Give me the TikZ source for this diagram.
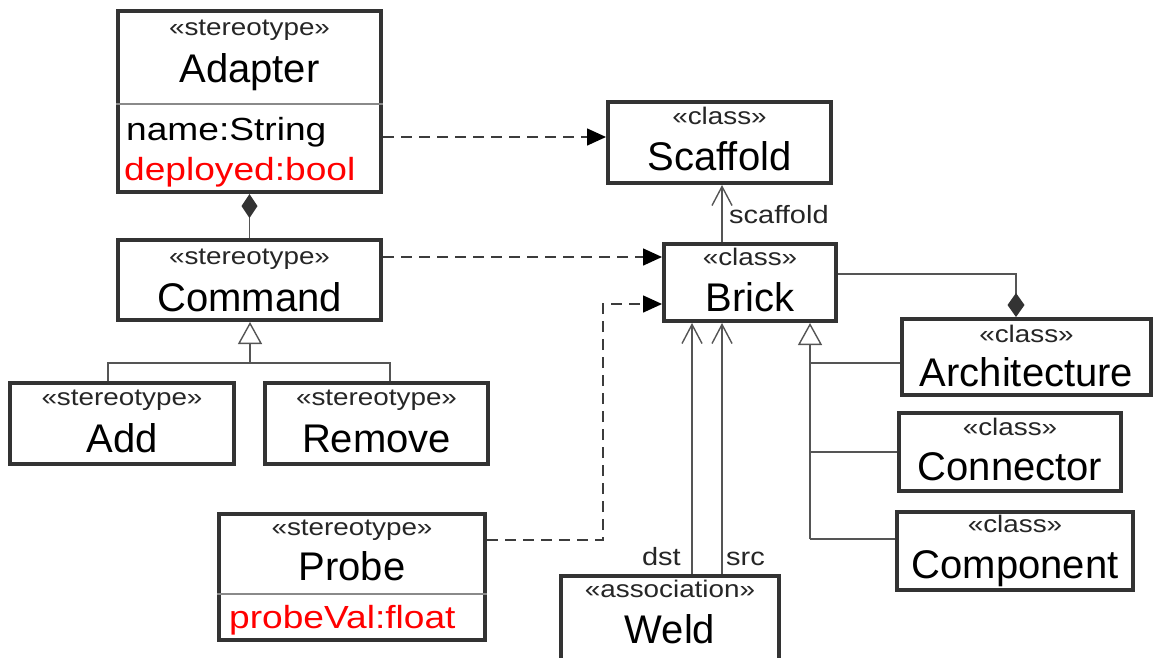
\documentclass[tikz,border=0pt]{standalone}
\usepackage{fontspec}
\setmainfont{Liberation Sans}
\newfontfamily\widefont[FakeStretch=1.16]{Liberation Sans}
\usetikzlibrary{arrows.meta}
\definecolor{boxline}{HTML}{333333}
\definecolor{wiregray}{HTML}{555555}
\definecolor{dashgray}{HTML}{3C3C3C}
\definecolor{divline}{HTML}{8A8A8A}
\definecolor{attrred}{HTML}{FF0000}

\begin{document}
\begin{tikzpicture}[x=1pt,y=-1pt,
  umlbox/.style={draw=boxline, line width=4pt, fill=white, rectangle, inner sep=0pt},
  sttext/.style={font=\widefont\fontsize{24}{28}\selectfont, text=black!85, anchor=base, inner sep=0pt},
  nametext/.style={font=\fontsize{40}{46}\selectfont, text=black, anchor=base, inner sep=0pt},
  attrtext/.style={font=\widefont\fontsize{32}{38}\selectfont, anchor=base west, inner sep=0pt},
  roletext/.style={font=\widefont\fontsize{25}{30}\selectfont, text=black!85, inner sep=0pt},
  divider/.style={draw=divline, line width=1.5pt},
  wire/.style={draw=wiregray, line width=1.4pt},
  dep/.style={draw=dashgray, line width=1.5pt, dash pattern=on 11pt off 7pt,
    -{Triangle[length=19pt,width=17pt,color=black]}},
  assoc/.style={wire, -{Straight Barb[length=19pt,width=20pt]}},
  gen/.style={wire, -{Triangle[open, length=22pt, width=24pt, fill=white]}},
  compstart/.style={wire, {Diamond[length=24pt,width=16pt,color=boxline]}-},
  compend/.style={wire, -{Diamond[length=24pt,width=17pt,color=boxline]}},
]
\useasboundingbox (0,0) rectangle (1155,657);

% ---- class boxes ----
\node[umlbox, minimum width=263pt, minimum height=181pt] (adapter) at (249.5,101.5) {};
\node[umlbox, minimum width=263pt, minimum height=80pt] (command) at (249.5,280) {};
\node[umlbox, minimum width=224pt, minimum height=81pt] (add) at (122,423.5) {};
\node[umlbox, minimum width=223pt, minimum height=81pt] (remove) at (376.5,423.5) {};
\node[umlbox, minimum width=223pt, minimum height=81pt] (scaffold) at (719.5,142.5) {};
\node[umlbox, minimum width=172pt, minimum height=77pt] (brick) at (750,282.5) {};
\node[umlbox, minimum width=249pt, minimum height=76pt] (architecture) at (1026.5,357) {};
\node[umlbox, minimum width=222pt, minimum height=78pt] (connector) at (1010,452) {};
\node[umlbox, minimum width=236pt, minimum height=78pt] (component) at (1015,551) {};
\node[umlbox, minimum width=266pt, minimum height=126pt] (probe) at (352,577) {};
\node[umlbox, minimum width=218pt, minimum height=84pt] (weld) at (670,618) {};

% ---- compartment dividers ----
\coordinate (dAdapter) at (0,104);
\coordinate (dProbe) at (0,594);
\draw[divider] (adapter.west |- dAdapter) -- (adapter.east |- dAdapter);
\draw[divider] (probe.west |- dProbe) -- (probe.east |- dProbe);

% ---- box texts ----
\node[sttext] (adapterSt) at (249.5,35) {«stereotype»};
\node[nametext] (adapterName) at (249.5,82) {Adapter};
\node[attrtext, text=black] (adapterA1) at (126,140) {name:String};
\node[attrtext, text=attrred] (adapterA2) at (124,180) {deployed:bool};

\node[sttext] (commandSt) at (249.5,264) {«stereotype»};
\node[nametext] (commandName) at (249.5,311) {Command};

\node[sttext] (addSt) at (122,405) {«stereotype»};
\node[nametext] (addName) at (122,452) {Add};

\node[sttext] (removeSt) at (376.5,405) {«stereotype»};
\node[nametext] (removeName) at (376.5,452) {Remove};

\node[sttext] (scaffoldSt) at (719.5,124) {«class»};
\node[nametext] (scaffoldName) at (719.5,170) {Scaffold};

\node[sttext] (brickSt) at (750,265) {«class»};
\node[nametext] (brickName) at (750,311) {Brick};

\node[sttext] (architectureSt) at (1026.5,342) {«class»};
\node[nametext] (architectureName) at (1026.5,386) {Architecture};

\node[sttext] (connectorSt) at (1010,435) {«class»};
\node[nametext] (connectorName) at (1010,480) {Connector};

\node[sttext] (componentSt) at (1015,532) {«class»};
\node[nametext] (componentName) at (1015,578) {Component};

\node[sttext] (probeSt) at (352,535) {«stereotype»};
\node[nametext] (probeName) at (352,580) {Probe};
\node[attrtext, text=attrred] (probeA1) at (229,628) {probeVal:float};

\node[sttext] (weldSt) at (670,597) {«association»};
\node[nametext] (weldName) at (670,643) {Weld};

% ---- routing helpers ----
\coordinate (yAS) at (0,137);
\coordinate (yCB) at (0,257);
\coordinate (yPB) at (0,540);
\coordinate (pbBend) at (603,304);
\coordinate (gCmd) at (250,363);
\coordinate (xAdd) at (108,0);
\coordinate (xRem) at (390,0);
\coordinate (xSc) at (722,0);
\coordinate (xDst) at (692,0);
\coordinate (xSrc) at (722,0);
\coordinate (xG) at (810,0);
\coordinate (yArch) at (0,363);
\coordinate (yConn) at (0,452);
\coordinate (yComp) at (0,539);
\coordinate (yBA) at (0,274);
\coordinate (xBA) at (1016,0);

% ---- dependencies ----
\draw[dep] (adapter.east |- yAS) -- (scaffold.west |- yAS);
\draw[dep] (command.east |- yCB) -- (brick.west |- yCB);
\draw[dep] (probe.east |- yPB) -| (pbBend) -- (brick.west |- pbBend);

% ---- compositions ----
\draw[compstart] (adapter.south) -- (command.north);
\draw[compend] (brick.east |- yBA) -| (architecture.north -| xBA);

% ---- generalisations ----
\draw[wire] (add.north -| xAdd) |- (gCmd) -| (remove.north -| xRem);
\draw[gen] (gCmd) -- (command.south -| gCmd);
\draw[gen] (xG |- yComp) -- (brick.south -| xG);
\draw[wire] (xG |- yArch) -- (architecture.west |- yArch);
\draw[wire] (xG |- yConn) -- (connector.west |- yConn);
\draw[wire] (xG |- yComp) -- (component.west |- yComp);

% ---- associations ----
\draw[assoc] (brick.north -| xSc) -- (scaffold.south -| xSc);
\node[roletext, anchor=base west] (roleScaffold) at (729,223) {scaffold};
\draw[assoc] (weld.north -| xDst) -- (brick.south -| xDst);
\draw[assoc] (weld.north -| xSrc) -- (brick.south -| xSrc);
\node[roletext, anchor=base east] (roleDst) at (681,565) {dst};
\node[roletext, anchor=base west] (roleSrc) at (726,565) {src};
\end{tikzpicture}
\end{document}
